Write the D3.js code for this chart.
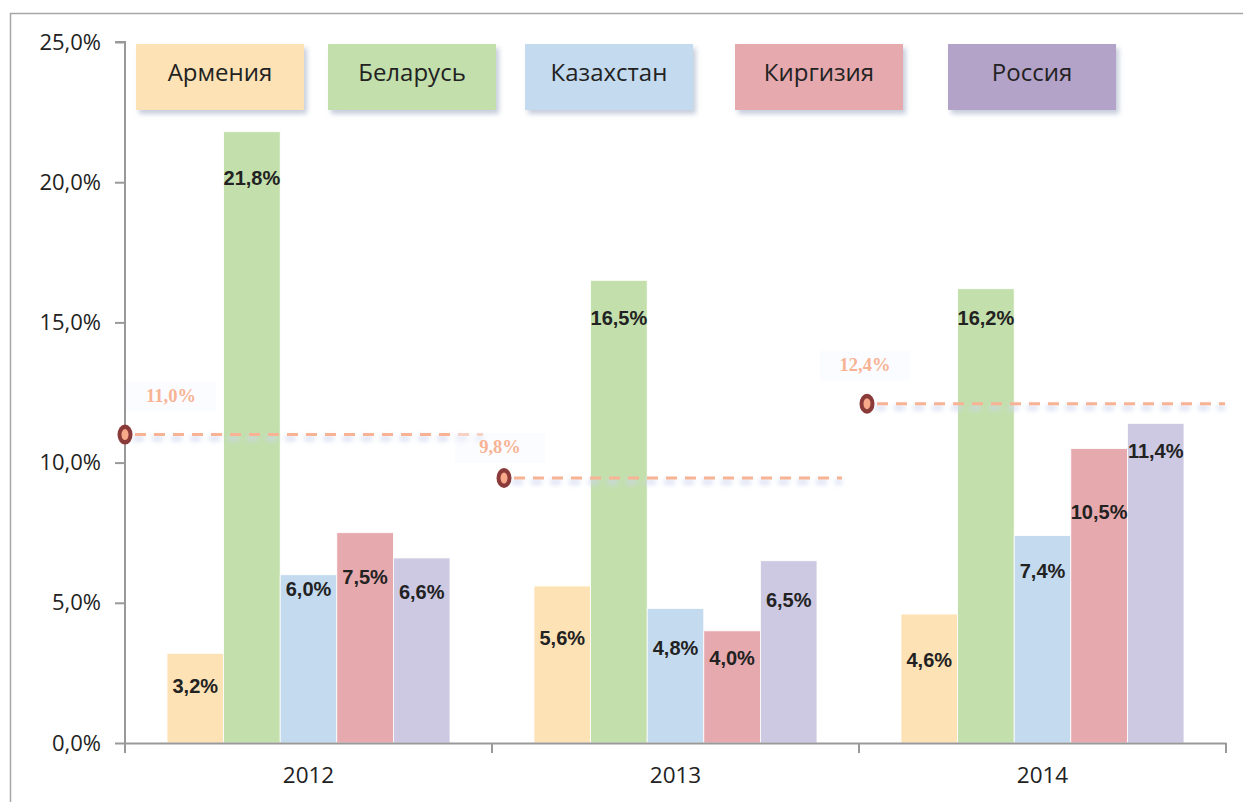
<!DOCTYPE html>
<html>
<head>
<meta charset="utf-8">
<script src="https://cdn.jsdelivr.net/npm/d3@7"></script>
<style>
  body { margin: 0; background: #fff; }
  svg { display: block; }
</style>
</head>
<body>
<svg id="chart"></svg>
<script>
// data
const years = ["2012", "2013", "2014"];
const countries = ["Армения", "Беларусь", "Казахстан", "Киргизия", "Россия"];
const armenia    = [3.2, 5.6, 4.6];
const belarus    = [21.8, 16.5, 16.2];
const kazakhstan = [6.0, 4.8, 7.4];
const kyrgyzstan = [7.5, 4.0, 10.5];
const russia     = [6.6, 6.5, 11.4];
const avgLevels  = [11.0, 9.45, 12.1];   // where the average markers sit in the picture
const avgLabels  = ["11,0%", "9,8%", "12,4%"];
const yTicks     = [0, 5, 10, 15, 20, 25];

const seriesValues = [armenia, belarus, kazakhstan, kyrgyzstan, russia];

// styling / layout
const barColors    = ["#fde2b6", "#c3dfac", "#c4daef", "#e6a9ae", "#cdc9e3"];
const legendColors = ["#fde2b6", "#c3dfac", "#c4daef", "#e6a9ae", "#b4a3c8"];
const legendX = [136, 328, 525, 735, 948];
// vertical offset (px) of each value label below the bar top, [year][series]
const labelDy = [[34, 48, 16, 46, 36], [54, 39, 41, 29, 41], [48, 31, 37, 65, 29]];
const avgStartPad = [0, 12, 8], avgEndPad = [9, 17, 1];
const avgLabelDx = [46, -4, -2], avgLabelDy = [-37, -29, -37];

const width = 1243, height = 802;
const svg = d3.select("#chart").attr("width", width).attr("height", height);

const defs = svg.append("defs");
const sh = defs.append("filter").attr("id", "boxShadow")
  .attr("x", "-10%").attr("y", "-20%").attr("width", "130%").attr("height", "150%");
sh.append("feGaussianBlur").attr("in", "SourceAlpha").attr("stdDeviation", 2.5).attr("result", "b");
sh.append("feOffset").attr("dx", 3).attr("dy", 4).attr("result", "o");
sh.append("feFlood").attr("flood-color", "#8090b0").attr("flood-opacity", 0.45);
sh.append("feComposite").attr("in2", "o").attr("operator", "in").attr("result", "s");
const m = sh.append("feMerge");
m.append("feMergeNode").attr("in", "s");
m.append("feMergeNode").attr("in", "SourceGraphic");

const glow = defs.append("filter").attr("id", "glow")
  .attr("filterUnits", "userSpaceOnUse")
  .attr("x", 0).attr("y", 0).attr("width", width).attr("height", height);
glow.append("feGaussianBlur").attr("stdDeviation", 2.5);

// frame
svg.append("rect").attr("x", 10.5).attr("y", 13.5).attr("width", 1260).attr("height", 820)
  .attr("fill", "none").attr("stroke", "#a6a6a6").attr("stroke-width", 1.5);

const x0 = 125, x1 = 1226, yTop = 42, yBottom = 743;

const x = d3.scaleBand().domain(years).range([x0, x1]).paddingInner(0).paddingOuter(0);
const xs = d3.scaleBand().domain(d3.range(countries.length))
  .range([42, x.bandwidth() - 42]);
const y = d3.scaleLinear().domain([0, 25]).range([yBottom, yTop]);

// bars
years.forEach((yr, i) => {
  const g = svg.append("g").attr("transform", `translate(${x(yr)},0)`);
  seriesValues.forEach((vals, j) => {
    g.append("rect")
      .attr("x", xs(j)).attr("y", y(vals[i]))
      .attr("width", xs.bandwidth()).attr("height", y(0) - y(vals[i]))
      .attr("fill", barColors[j]).attr("stroke", "#fff").attr("stroke-width", 0.8);
  });
  seriesValues.forEach((vals, j) => {
    g.append("text")
      .attr("x", xs(j) + xs.bandwidth() / 2)
      .attr("y", y(vals[i]) + labelDy[i][j])
      .attr("text-anchor", "middle").attr("dominant-baseline", "middle")
      .attr("font-family", "Liberation Sans, Arial, sans-serif")
      .attr("font-weight", "bold").attr("font-size", 20).attr("fill", "#222")
      .text(vals[i].toFixed(1).replace(".", ",") + "%");
  });
});

// y axis
const yAxis = d3.axisLeft(y).tickValues(yTicks).tickSize(10)
  .tickFormat(d => d.toFixed(1).replace(".", ",") + "%");
const ya = svg.append("g").attr("transform", `translate(${x0},0)`).call(yAxis);
ya.select(".domain").attr("stroke", "#999").attr("stroke-width", 2).attr("d", `M-10,${yTop}H0V${yBottom}`);
ya.selectAll(".tick line").attr("stroke", "#999").attr("stroke-width", 2);
ya.selectAll(".tick text").attr("x", -24)
  .attr("font-family", "Open Sans, sans-serif").attr("font-size", 22).attr("fill", "#222");

// x axis
const xAxis = d3.axisBottom(x).tickSize(0).tickSizeOuter(0);
const xa = svg.append("g").attr("transform", `translate(0,${yBottom})`).call(xAxis);
xa.select(".domain").attr("stroke", "#999").attr("stroke-width", 2);
xa.selectAll(".tick text").attr("y", 24)
  .attr("font-family", "Open Sans, sans-serif").attr("font-size", 22.5).attr("fill", "#222");
xa.selectAll(".sep").data([...years.map(d => x(d)), x1]).enter().append("line")
  .attr("x1", d => d).attr("x2", d => d).attr("y1", 0).attr("y2", 10)
  .attr("stroke", "#999").attr("stroke-width", 2);

// average lines
years.forEach((yr, i) => {
  const sx = x(yr) + avgStartPad[i];
  const ex = x(yr) + x.bandwidth() - avgEndPad[i];
  const yy = y(avgLevels[i]);
  svg.append("rect")
    .attr("x", sx + avgLabelDx[i] - 45).attr("y", yy + avgLabelDy[i] - 16)
    .attr("width", 90).attr("height", 30).attr("fill", "#f7f9fe").attr("opacity", 0.45);
  svg.append("line").attr("x1", sx + 8).attr("x2", ex).attr("y1", yy + 4).attr("y2", yy + 4)
    .attr("stroke", "#cdd6ef").attr("stroke-width", 5).attr("stroke-dasharray", "11,8")
    .attr("opacity", 0.75).attr("filter", "url(#glow)");
  svg.append("line").attr("x1", sx + 10).attr("x2", ex).attr("y1", yy).attr("y2", yy)
    .attr("stroke", "#f8b394").attr("stroke-width", 3).attr("stroke-dasharray", "11,8");
  svg.append("ellipse").attr("cx", sx).attr("cy", yy).attr("rx", 7.5).attr("ry", 10)
    .attr("fill", "#8b3a3a");
  svg.append("ellipse").attr("cx", sx).attr("cy", yy).attr("rx", 3.5).attr("ry", 5.5)
    .attr("fill", "#f7a98a");
  svg.append("text").attr("x", sx + avgLabelDx[i]).attr("y", yy + avgLabelDy[i])
    .attr("text-anchor", "middle").attr("dominant-baseline", "middle")
    .attr("font-family", "Liberation Serif, Times New Roman, serif").attr("font-weight", "bold")
    .attr("font-size", 18.5).attr("fill", "#f8b394").text(avgLabels[i]);
});

// legend
const lg = svg.append("g");
countries.forEach((c, j) => {
  lg.append("rect").attr("x", legendX[j]).attr("y", 44).attr("width", 168).attr("height", 66)
    .attr("fill", legendColors[j]).attr("filter", "url(#boxShadow)");
  lg.append("text").attr("x", legendX[j] + 84).attr("y", 75)
    .attr("text-anchor", "middle").attr("dominant-baseline", "middle")
    .attr("font-family", "Open Sans, sans-serif").attr("font-size", 24).attr("fill", "#222")
    .text(c);
});
</script>
</body>
</html>
